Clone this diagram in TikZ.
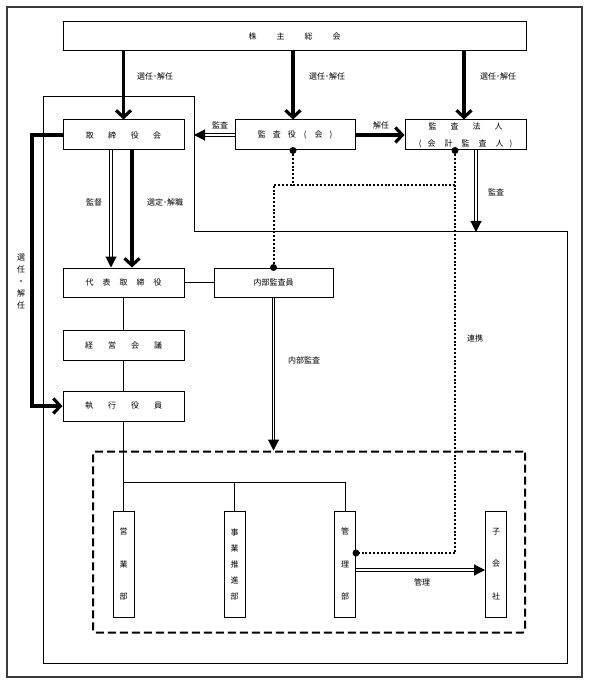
\documentclass[tikz,border=0pt]{standalone}
\usepackage{fontspec}
\setmainfont{Noto Sans CJK JP}
\usepackage{xcolor}
\usetikzlibrary{arrows.meta}
\definecolor{framegray}{HTML}{3A3A3A}

\begin{document}
\begin{tikzpicture}[x=1pt, y=-1pt,
    font=\fontsize{8}{10}\selectfont,
    box/.style={draw, line width=1pt, minimum width=121pt, minimum height=30pt, inner sep=0pt},
    vbox/.style={draw, line width=1pt, minimum width=21pt, minimum height=106pt, inner sep=0pt, align=center},
    bigarrow/.style={line width=3.2pt, -{Straight Barb[length=7pt, width=15pt]}},
    dblarrow/.style={double, double distance=1.5pt, line width=1.1pt, -{Triangle[length=11pt, width=11pt]}},
    dotline/.style={line width=2pt, dash pattern=on 2pt off 1.8pt},
    lbl/.style={inner sep=0pt}]
  \useasboundingbox (0,0) rectangle (589,684);
  % frames
  \draw[framegray, line width=1.5pt] (7,7) rectangle (582,677);
  \draw[line width=1pt] (43,97) -- (194,97) -- (194,232) -- (567,232) -- (567,663) -- (43,663) -- cycle;
  \coordinate (fr) at (194,232);
  \coordinate (lft) at (32,0);
  \coordinate (rv) at (455,185);
  \coordinate (br) at (123.5,482);

  % boxes
  \node[box, minimum width=463pt, minimum height=29pt] (gm) at (294.5,36.5) {株\hspace{20pt}主\hspace{20pt}総\hspace{20pt}会};
  \node[box] (bod) at (123.5,135) {取\hspace{14.5pt}締\hspace{14.5pt}役\hspace{14.5pt}会};
  \node[box, minimum width=120pt] (kansa) at (295,135) {監\hspace{7pt}査\hspace{7pt}役\hspace{8pt}(\hspace{8pt}会\hspace{7pt})};
  \node[box, align=center] (firm) at (465.5,135)
    {監\hspace{14pt}査\hspace{14pt}法\hspace{14pt}人\\[7pt]
     (\hspace{6pt}会\hspace{9pt}計\hspace{9pt}監\hspace{9pt}査\hspace{9pt}人\hspace{6pt})};
  \node[box, minimum height=29pt] (daihyo) at (123.5,282.5) {代\hspace{9pt}表\hspace{9pt}取\hspace{9pt}締\hspace{9pt}役};
  \node[box, minimum width=119pt, minimum height=29pt] (naibu) at (273.5,282.5) {内部監査員};
  \node[box] (keiei) at (123.5,345) {経\hspace{15pt}営\hspace{15pt}会\hspace{15pt}議};
  \node[box] (shikko) at (123.5,406) {執\hspace{15pt}行\hspace{15pt}役\hspace{15pt}員};
  \node[draw, line width=2pt, dash pattern=on 8pt off 4pt, rounded corners=2pt,
        minimum width=432pt, minimum height=181pt] (grp) at (309,542) {};
  \node[vbox] (eigyo) at (123.5,564) {営\\[22.5pt]業\\[22.5pt]部};
  \node[vbox] (jigyo) at (234.5,564) {事\\[6pt]業\\[6pt]推\\[6pt]進\\[6pt]部};
  \node[vbox] (kanri) at (345,564) {管\\[22.5pt]理\\[22.5pt]部};
  \node[vbox] (ko) at (496,564) {子\\[22.5pt]会\\[22.5pt]社};

  % thin connectors
  \draw[line width=0.8pt] (daihyo.east) -- (naibu.west);
  \draw[line width=0.8pt] (daihyo.south) -- (keiei.north);
  \draw[line width=0.8pt] (keiei.south) -- (shikko.north);
  \draw[line width=0.8pt] (shikko.south) -- (eigyo.north);
  \draw[line width=0.8pt] (br) -| (kanri.north);
  \draw[line width=0.8pt] (br -| jigyo.north) -- (jigyo.north);

  % arrows
  \draw[bigarrow] (gm.south -| bod) -- (bod.north);
  \draw[bigarrow] ([xshift=-2pt]kansa.north |- gm.south) -- ([xshift=-2pt]kansa.north);
  \draw[bigarrow] ([xshift=-1.5pt]firm.north |- gm.south) -- ([xshift=-1.5pt]firm.north);
  \draw[dblarrow] (kansa.west) -- (kansa.west -| fr);
  \draw[bigarrow] (kansa.east) -- (firm.west);
  \draw[dblarrow] ([xshift=10.5pt]firm.south) -- ([xshift=10.5pt]firm.south |- fr);
  \draw[dblarrow] ([xshift=-12.5pt]bod.south) -- ([xshift=-12.5pt]daihyo.north);
  \draw[bigarrow] ([xshift=8.5pt]bod.south) -- ([xshift=8.5pt]daihyo.north);
  \draw[bigarrow] (bod.west) -- (bod.west -| lft) -- (shikko.west -| lft) -- (shikko.west);
  \draw[dblarrow] (naibu.south) -- (naibu.south |- grp.north);
  \draw[dblarrow] ([yshift=-6pt]kanri.east) -- ([yshift=-6pt]ko.west);

  % dotted links
  \coordinate (kdot) at ([yshift=11pt]kanri.east);
  \draw[dotline] ([xshift=-10.5pt]firm.south) -- (kdot -| rv) -- (kdot);
  \draw[dotline] (rv) -- (rv -| naibu.north) -- (naibu.north);
  \draw[dotline] ([xshift=-2pt]kansa.south) -- ([xshift=-2pt]kansa.south |- rv);
  \fill ([xshift=-2pt]kansa.south) circle (3.5pt);
  \fill ([xshift=-10.5pt]firm.south) circle (3.5pt);
  \fill (naibu.north) circle (3.5pt);
  \fill (kdot) circle (3.5pt);

  % labels
  \node[lbl] (l1) at (155,76) {選任･解任};
  \node[lbl] (l2) at (327,76) {選任･解任};
  \node[lbl] (l3) at (498,76) {選任･解任};
  \node[lbl] (lk1) at (220,125) {監査};
  \node[lbl] (lk2) at (381,125) {解任};
  \node[lbl] (lk3) at (496,192) {監査};
  \node[lbl] (lsv) at (94,202) {監督};
  \node[lbl] (lsd) at (165,202) {選定･解職};
  \node[lbl, align=center] (lv) at (21,282) {選\\[2pt]任\\[2pt]・\\[2pt]解\\[2pt]任};
  \node[lbl] (lnb) at (304,360) {内部監査};
  \node[lbl] (lrk) at (475,338) {連携};
  \node[lbl] (lkr) at (422,582) {管理};
\end{tikzpicture}
\end{document}
